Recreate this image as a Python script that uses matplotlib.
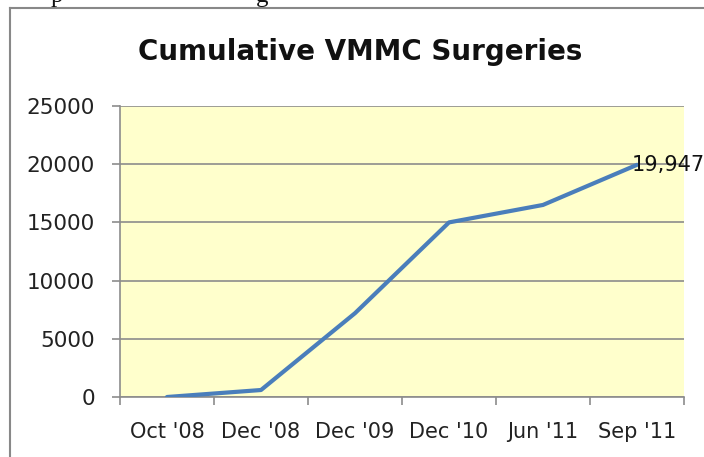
import numpy as np
import matplotlib.pyplot as plt
from matplotlib.lines import Line2D

# -----------------------------
# Data
# -----------------------------
periods = ["Oct '08", "Dec '08", "Dec '09", "Dec '10", "Jun '11", "Sep '11"]
surgeries = [0, 600, 7200, 15000, 16500, 19947]
y_ticks = [0, 5000, 10000, 15000, 20000, 25000]

line_color = "#4a7ebb"
grid_color = "#8c8c8c"
plot_bg = "#ffffcc"

plt.rcParams['font.family'] = ['DejaVu Sans']

fig = plt.figure(figsize=(7.04, 4.57), dpi=100)
ax = fig.add_axes([120 / 704, 1 - 397 / 457, 564 / 704, 291 / 457])

x = np.arange(len(periods))
ax.plot(x, surgeries, color=line_color, linewidth=3, solid_capstyle='round',
        solid_joinstyle='round', zorder=3)

# label on last point
ax.annotate(f"{surgeries[-1]:,}", (x[-1], surgeries[-1]), xytext=(-4, 0),
            textcoords='offset points', ha='left', va='center', fontsize=15,
            color='#111111', annotation_clip=False, zorder=4)

ax.set_facecolor(plot_bg)
ax.set_xlim(-0.5, len(periods) - 0.5)
ax.set_ylim(0, 25000)

ax.set_yticks(y_ticks)
ax.set_yticklabels([str(v) for v in y_ticks], fontsize=15.5, color='#222222')
ax.yaxis.grid(True, color=grid_color, linewidth=1.2)
ax.set_axisbelow(True)

ax.set_xticks(x)
ax.set_xticklabels(periods, fontsize=15, color='#222222')
ax.set_xticks(np.arange(-0.5, len(periods)), minor=True)
ax.tick_params(axis='x', which='major', length=0, pad=18)
ax.tick_params(axis='x', which='minor', length=6, color=grid_color, width=1.2)
ax.tick_params(axis='y', length=6, color=grid_color, width=1.2, pad=12)

for side in ['top', 'right']:
    ax.spines[side].set_visible(False)
for side in ['left', 'bottom']:
    ax.spines[side].set_color(grid_color)
    ax.spines[side].set_linewidth(1.2)

fig.text(360 / 704, 1 - 52 / 457, "Cumulative VMMC Surgeries", ha='center',
         va='center', fontsize=20, fontweight='bold', color='#111111')

# chart frame (left and top edge)
fig.add_artist(Line2D([10 / 704, 10 / 704], [0, 1 - 8 / 457],
                      transform=fig.transFigure, color='#888888', linewidth=1.5))
fig.add_artist(Line2D([10 / 704, 1], [1 - 8 / 457, 1 - 8 / 457],
                      transform=fig.transFigure, color='#888888', linewidth=1.5))

# clipped document text above the chart
fig.text(57 / 704, 1 + 4 / 457, "p", ha='center', va='center', fontsize=18,
         family='Liberation Serif', color='#111111')
fig.text(262 / 704, 1 + 4 / 457, "g", ha='center', va='center', fontsize=18,
         family='Liberation Serif', color='#111111')

fig.savefig("out.png", dpi=100)
